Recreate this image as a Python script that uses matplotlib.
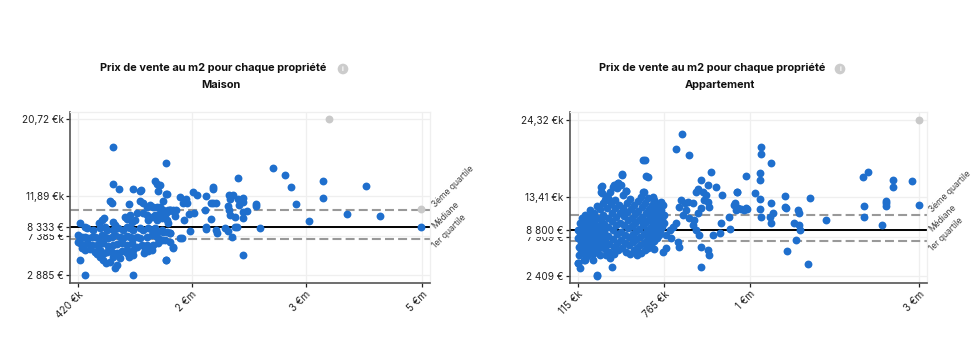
import numpy as np
import matplotlib
matplotlib.use("Agg")
import matplotlib.pyplot as plt
from matplotlib.scale import FuncScale

plt.rcParams['font.family'] = ['Inter', 'DejaVu Sans']

# -------------------------------------------------------------------------------------------------------------------- #
# DATA

titre = "Prix de vente au m2 pour chaque propriété"

# Maison : prix de vente (k€), prix au m2 (€)
maison_prix = [
    901, 1635, 2713, 2818, 2871, 3288, 3288, 2912, 4029, 3057, 3702, 4276, 4980, 2599, 2447, 2403, 2567, 2561,
    2485, 2450, 2450, 2406, 2362, 2327, 2333, 2313, 2327, 2333, 2377, 2397, 2377, 2321, 2353, 2450, 2450, 2415,
    2187, 2187, 2120, 2117, 2164, 2120, 2120, 2184, 2166, 2210, 2219, 2210, 2287, 2011, 2041, 1976, 1963, 2020,
    1889, 1834, 1917, 1871, 1927, 1838, 1861, 1764, 1741, 1695, 1663, 1691, 1733, 1636, 1644,
    910, 993, 1178, 1279, 1298, 1487, 1510, 1557, 1533, 1649, 864, 887, 1131, 1279, 1326, 1233, 1372, 1418,
    1464, 1510, 1557, 1593, 1603, 1649, 1695, 1741, 1778, 706, 748, 780, 910, 933, 1071, 1095, 1141, 1164,
    1210, 1326, 1372, 1395, 1441, 1487, 1510, 1557, 1580, 1626, 1649, 1672, 448, 517, 549, 633, 725, 794,
    817, 910, 979, 1048, 1095, 1141, 1187, 1279, 1326, 1395, 1441, 1487, 1510, 1580, 1603, 1649, 1695, 425,
    471, 517, 563, 609, 656, 702, 748, 794, 840, 887, 933, 1002, 1048, 1095, 1141, 1187, 1233, 1279, 1372,
    1441, 1510, 1547, 1580, 1626, 1695, 1741, 420, 448, 494, 549, 609, 679, 725, 771, 840, 910, 956, 1025,
    1095, 1164, 1233, 1302, 1372, 1464, 1533, 471, 517, 586, 656, 725, 780, 817, 887, 956, 1025, 1095, 1187,
    1349, 1441, 448, 679, 725, 771, 808, 864, 910, 956, 933, 1002, 1095, 1131, 1187, 1335, 1395, 522, 1187,
    1635,
]
maison_m2 = [
    17510, 15690, 15050, 14250, 12880, 13600, 11700, 10945, 13065, 9075, 9805, 9610, 8333, 8243, 5165, 13977,
    10945, 10750, 10181, 11697, 11241, 11515, 12005, 12005, 11515, 10785, 10295, 9725, 9460, 8390, 8390, 7935,
    7180, 9350, 10100, 10865, 12880, 12690, 11925, 10295, 9235, 8323, 8130, 11127, 11093, 11093, 7707, 8015,
    8209, 12313, 12005, 7935, 9805, 9920, 9155, 11811, 11549, 11127, 11059, 7069, 7069, 9610, 10295, 10295,
    10295, 7707, 5997, 4595, 12085,
    13259, 12689, 12651, 12499, 12575, 13639, 13259, 13145, 12461, 12081, 11359, 11055, 10979, 11359, 11055,
    9915, 10675, 10865, 10599, 10675, 10675, 11359, 10295, 10105, 10295, 10219, 10295, 8851, 9155, 9345, 8965,
    8585, 9535, 9231, 9725, 8965, 9155, 9915, 9725, 9155, 9535, 9725, 9155, 9915, 9345, 9725, 9155, 8775,
    8775, 8395, 8205, 8015, 8205, 8395, 8015, 8015, 8205, 8015, 8395, 8205, 8015, 8205, 8015, 8205, 8015,
    8205, 7825, 8015, 7825, 7825, 7635, 7445, 7255, 7255, 7065, 7179, 7255, 7065, 7445, 7179, 7065, 7255,
    7445, 7255, 7065, 7331, 7179, 7065, 7255, 7065, 7255, 7445, 7179, 6951, 6875, 6875, 6685, 6039, 6685,
    6495, 6305, 6495, 6305, 6305, 6495, 6495, 6191, 6305, 6419, 6495, 6305, 6495, 6115, 6305, 6305, 6305,
    6495, 5925, 5735, 5811, 5545, 5735, 5355, 5545, 5545, 5431, 5659, 5735, 5735, 5735, 5735, 4595, 5279,
    4975, 4595, 4215, 4405, 4975, 4025, 3645, 4785, 5355, 4975, 5165, 5355, 5659, 2885, 2885, 4595,
]
maison_gris_prix = [3397, 4980]
maison_gris_m2 = [20720, 10375]
maison_xticks = [420, 2000, 3000, 5000]
maison_xlabels = ["420 €k", "2 €m", "3 €m", "5 €m"]
maison_yticks = [2885, 7385, 8333, 11890, 20720]
maison_ylabels = ["2 885 €", "7 385 €", "8 333 €", "11,89 €k", "20,72 €k"]
maison_q1, maison_med, maison_q3 = 6990, 8333, 10295

# Appartement : prix de vente (k€), prix au m2 (€)
appart_prix = [
    812, 797, 832, 619, 1133, 1133, 1250, 988, 1117, 1117, 1055, 1117, 983, 988, 1117, 1133, 1250, 1273, 1234,
    1250, 1406, 1406, 1418, 1516, 1566, 1574, 1574, 1586, 1547, 1430, 1684, 1711, 1898, 2336, 2394, 2343, 2343,
    2555, 2609, 2609, 2609, 2687, 2687, 2914, 3000,
    639, 893, 865, 883, 906, 923, 963, 943, 920, 918, 897, 944, 956, 961, 975, 856, 852, 870, 879, 874, 883,
    888, 865, 856, 842, 829, 820, 811, 806, 824, 815, 833, 847, 842, 852, 861, 865, 883, 886, 865, 797, 788,
    779, 770, 783, 801, 806, 770, 752, 965, 958, 966, 990,
    120, 132, 170, 257, 369, 289, 394, 419, 382, 444, 606, 623, 606, 294, 319, 344, 450, 299, 286, 400, 412,
    437, 475, 614, 677, 695, 349, 324,
    118, 120, 122, 125, 120, 128, 135, 140, 142, 145, 150, 155, 158, 160, 165, 170, 172, 175, 178, 182, 185,
    190, 195, 198, 200, 205, 208, 212, 215, 218, 220, 225, 228, 232, 236, 240, 244, 246, 250, 252, 262, 258,
    262, 265, 268, 272, 276, 280, 284, 288, 292, 295, 298,
    302, 306, 310, 314, 318, 322, 326, 330, 334, 338, 342, 345, 348, 352, 356, 360, 364, 368, 372, 376, 380,
    384, 386, 388, 392, 396, 400, 404, 408, 412, 416, 420, 424, 428, 432, 436, 440, 446, 452, 456, 460, 464,
    468, 472, 476, 478, 482, 486, 490, 494, 498, 502, 506, 510, 514, 518, 522, 526, 530, 534, 538, 542, 546,
    548,
    552, 556, 560, 564, 568, 572, 576, 580, 584, 588, 592, 596, 600, 604, 608, 612, 616, 620, 624, 628, 632,
    636, 640, 644, 648, 652, 656, 660, 664, 668, 672, 676, 680, 684, 688, 690, 694, 698, 702, 706, 710, 714,
    718, 722, 726, 730, 734, 738, 742, 746, 750, 756, 760, 764,
]
appart_m2 = [
    22290, 20140, 19300, 18650, 20515, 19440, 18200, 16410, 16780, 15850, 13980, 13140, 11650, 11880, 11740,
    10620, 12580, 11280, 10620, 9880, 13610, 12120, 11880, 9880, 11650, 11180, 9550, 8850, 7450, 5950, 4090,
    13380, 10250, 16320, 17020, 12210, 10620, 9500, 12960, 12210, 12680, 15850, 14920, 15710, 12350,
    16315, 16920, 15850, 15150, 14920, 13750, 14220, 10720, 9780, 8380, 8150, 8940, 12350, 11650, 11740,
    14540, 14220, 14220, 13750, 13050, 12820, 12120, 11880, 11180, 12580, 12820, 12580, 13050, 12120, 11650,
    10950, 10480, 10250, 9550, 8850, 8150, 6520, 6050, 5350, 3710, 9780, 9320, 8850, 8150, 7680, 7220, 6520,
    6280, 5820, 14215, 12582, 11882, 11742,
    4190, 3490, 4650, 2550, 3710, 14910, 15150, 15390, 14830, 16550, 18650, 16410, 14210, 13990, 13050,
    13290, 16640, 15010, 14215, 15149, 14682, 15149, 14356, 14215, 13515, 12815, 13049, 13609,
    8900, 7800, 6500, 5400, 4200, 9900, 8400, 7200, 6100, 10500, 9300, 7900, 6800, 5600, 4700, 11000, 9800,
    8700, 7500, 6300, 5200, 10300, 9100, 8100, 7000, 5900, 11600, 10800, 9600, 8400, 7300, 6600, 5500, 4600,
    11200, 10000, 8900, 7800, 6900, 6000, 2450, 12200, 10500, 9400, 8200, 7100, 6300, 5400, 11800, 10200,
    9000, 7700, 6700,
    12600, 11000, 9700, 8600, 7400, 6200, 5300, 13300, 12000, 10600, 9300, 8000, 6900, 5800, 4900, 14200,
    12500, 11300, 10100, 8800, 7600, 6500, 15100, 5500, 13000, 11900, 10700, 9500, 8300, 7100, 6000, 15400,
    12400, 11200, 9900, 8600, 7400, 6400, 13700, 12000, 10800, 9600, 8200, 7000, 5800, 14300, 12600, 11400,
    10300, 9100, 7900, 6700, 5500, 13200, 11800, 10600, 9400, 8300, 7200, 6100, 12400, 11100, 9800, 8700,
    7600, 6400, 5300, 12900, 11500, 10200, 9000, 7900, 6700, 5600, 13500, 12100, 10700, 9500, 8300, 7100,
    6000, 12700, 11300, 10000, 8800, 7500, 6300, 13300, 11800, 10400, 9200, 8000, 6800, 12300, 11000, 9700,
    8500, 7300, 6200, 13000, 11500, 10200, 8900, 7700, 12100, 10700, 9400, 8200, 11300, 10000, 8700, 12800,
    11700, 10400, 9300, 12300, 11000, 9800,
]
appart_gris_prix = [3000]
appart_gris_m2 = [24320]
appart_xticks = [115, 765, 1000, 3000]
appart_xlabels = ["115 €k", "765 €k", "1 €m", "3 €m"]
appart_yticks = [2409, 7909, 8800, 13410, 24320]
appart_ylabels = ["2 409 €", "7 909 €", "8 800 €", "13,41 €k", "24,32 €k"]
appart_q1, appart_med, appart_q3 = 7310, 8800, 10900

BLEU = '#1f6fcd'
GRIS = '#c9c9c9'


# -------------------------------------------------------------------------------------------------------------------- #
# Functions


def piecewise(bornes, positions):
    b = np.asarray(bornes, float)
    p = np.asarray(positions, float)

    def conv(v, src, dst):
        v = np.asarray(v, float)
        out = np.interp(v, src, dst)
        lo = (dst[1] - dst[0]) / (src[1] - src[0])
        hi = (dst[-1] - dst[-2]) / (src[-1] - src[-2])
        out = np.where(v < src[0], dst[0] + (v - src[0]) * lo, out)
        out = np.where(v > src[-1], dst[-1] + (v - src[-1]) * hi, out)
        return out

    return (lambda v: conv(v, b, p)), (lambda v: conv(v, p, b))


def scatter_panel(ax, prix, m2, gris_prix, gris_m2, xticks, xpos, xlabels, yticks, ylabels,
                  q1, med, q3, xlim, ylim):
    fwd, inv = piecewise(xticks, xpos)
    ax.set_xscale(FuncScale(ax, (fwd, inv)))
    ax.set_xlim(inv(xlim[0]), inv(xlim[1]))
    ax.set_ylim(*ylim)

    ax.axhline(q3, color='#999999', lw=1.5, dashes=(4.3, 2), zorder=1)
    ax.axhline(q1, color='#999999', lw=1.5, dashes=(4.3, 2), zorder=1)
    ax.axhline(med, color='black', lw=1.4, zorder=1)

    ax.scatter(prix, m2, s=32, color=BLEU, linewidths=0, zorder=3)
    ax.scatter(gris_prix, gris_m2, s=32, color=GRIS, linewidths=0, zorder=3)

    ax.set_xticks(xticks)
    ax.set_xticklabels(xlabels, rotation=45, ha='right', rotation_mode='anchor')
    ax.set_yticks(yticks)
    ax.set_yticklabels(ylabels)
    for lab in ax.get_yticklabels():
        lab.set_bbox(dict(facecolor='white', edgecolor='none', pad=0.3))
    ax.tick_params(labelsize=7.2, colors='#222222', length=3, width=0.9, pad=1.5)
    ax.minorticks_off()
    ax.grid(True, color='#efefef', lw=0.9, zorder=0)
    ax.set_axisbelow(True)

    for s in ['left', 'bottom']:
        ax.spines[s].set_color('#555555')
        ax.spines[s].set_linewidth(1.2)
    for s in ['top', 'right']:
        ax.spines[s].set_color('#efefef')
        ax.spines[s].set_linewidth(0.9)

    tr = ax.get_yaxis_transform()
    for val, txt, dy in [(q3, "3ème quartile", 3), (med, "Médiane", 0), (q1, "1er quartile", -6)]:
        ax.annotate(txt, xy=(1, val), xycoords=tr, xytext=(2.5, dy), textcoords='offset points',
                    rotation=45, rotation_mode='anchor', ha='left', va='center', fontsize=6.2,
                    color='#444444', annotation_clip=False)


def titre_panel(fig, xc, sous_titre, xicon):
    fig.text(xc / 974, 1 - 68 / 363, titre, ha='center', va='center', fontsize=7.9, fontweight='bold',
             color='#111111')
    fig.text(xc / 974 + 0.008, 1 - 85 / 363, sous_titre, ha='center', va='center', fontsize=7.9,
             fontweight='bold', color='#111111')
    fig.text(xicon / 974, 1 - 69 / 363, 'i', ha='center', va='center', fontsize=4.8, fontweight='bold',
             color='white', bbox=dict(boxstyle='circle,pad=0.35', facecolor='#cccccc', edgecolor='none'))


# -------------------------------------------------------------------------------------------------------------------- #
# Plot

fig = plt.figure(figsize=(9.74, 3.63), dpi=100)

ax1 = fig.add_axes([70 / 974, 80 / 363, 360 / 974, 171 / 363])
scatter_panel(ax1, maison_prix, maison_m2, maison_gris_prix, maison_gris_m2,
              maison_xticks, [0, 1, 2, 3.02], maison_xlabels, maison_yticks, maison_ylabels,
              maison_q1, maison_med, maison_q3, (-0.07, 3.09), (1970, 21470))

ax2 = fig.add_axes([570 / 974, 80 / 363, 357 / 974, 171 / 363])
scatter_panel(ax2, appart_prix, appart_m2, appart_gris_prix, appart_gris_m2,
              appart_xticks, [0, 1, 1.99, 3.94], appart_xlabels, appart_yticks, appart_ylabels,
              appart_q1, appart_med, appart_q3, (-0.09, 4.03), (1430, 25370))

titre_panel(fig, 213, "Maison", 343)
titre_panel(fig, 712, "Appartement", 840)

fig.savefig('out.png', dpi=100)
